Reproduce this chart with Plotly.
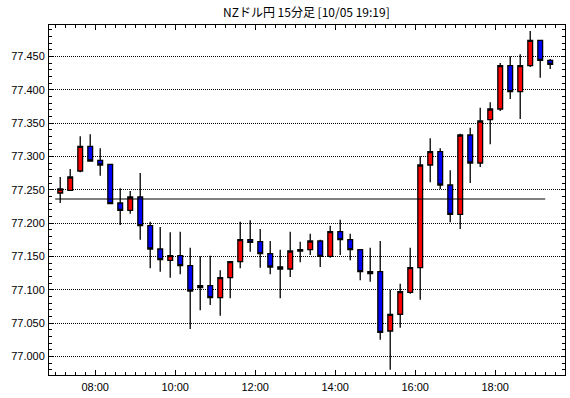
import pandas as pd
import plotly.graph_objects as go

title_text = "NZドル円 15分足 [10/05 19:19]"
start_time = "2023-10-05 07:00"
n_bars = 50

open_ = [77.245, 77.249, 77.278, 77.315, 77.294, 77.288, 77.230, 77.219, 77.239, 77.196,
         77.161, 77.144, 77.151, 77.136, 77.103, 77.106, 77.088, 77.118, 77.142, 77.175,
         77.172, 77.154, 77.134, 77.131, 77.160, 77.160, 77.173, 77.150, 77.187, 77.175,
         77.160, 77.127, 77.127, 77.038, 77.063, 77.096, 77.133, 77.287, 77.307, 77.257,
         77.213, 77.332, 77.290, 77.355, 77.371, 77.436, 77.397, 77.436, 77.474, 77.444]
high = [77.269, 77.281, 77.330, 77.333, 77.312, 77.288, 77.252, 77.248, 77.275, 77.202,
        77.194, 77.186, 77.187, 77.163, 77.150, 77.151, 77.129, 77.143, 77.202, 77.204,
        77.191, 77.173, 77.160, 77.187, 77.172, 77.184, 77.175, 77.196, 77.205, 77.184,
        77.160, 77.163, 77.173, 77.100, 77.109, 77.163, 77.300, 77.327, 77.312, 77.279,
        77.334, 77.343, 77.373, 77.381, 77.440, 77.450, 77.453, 77.488, 77.474, 77.446]
low = [77.230, 77.249, 77.276, 77.293, 77.271, 77.229, 77.197, 77.214, 77.175, 77.132,
       77.127, 77.118, 77.123, 77.041, 77.069, 77.077, 77.061, 77.087, 77.132, 77.157,
       77.133, 77.123, 77.087, 77.119, 77.141, 77.152, 77.134, 77.148, 77.152, 77.144,
       77.114, 77.112, 77.025, 76.980, 77.043, 77.094, 77.085, 77.261, 77.251, 77.201,
       77.191, 77.260, 77.284, 77.318, 77.368, 77.386, 77.356, 77.434, 77.418, 77.431]
close = [77.251, 77.269, 77.315, 77.293, 77.287, 77.229, 77.219, 77.239, 77.196, 77.161,
         77.145, 77.151, 77.136, 77.098, 77.106, 77.088, 77.118, 77.142, 77.175, 77.171,
         77.154, 77.134, 77.131, 77.158, 77.158, 77.173, 77.150, 77.187, 77.175, 77.160,
         77.127, 77.124, 77.036, 77.063, 77.097, 77.133, 77.287, 77.307, 77.257, 77.213,
         77.332, 77.290, 77.353, 77.371, 77.436, 77.397, 77.436, 77.474, 77.444, 77.438]
ref_level = 77.236

y_ticks = [77.000, 77.050, 77.100, 77.150, 77.200, 77.250, 77.300, 77.350, 77.400, 77.450]
y_tick_labels = ["77.000", "77.050", "77.100", "77.150", "77.200",
                 "77.250", "77.300", "77.350", "77.400", "77.450"]
x_tick_times = ["2023-10-05 08:00", "2023-10-05 10:00", "2023-10-05 12:00",
                "2023-10-05 14:00", "2023-10-05 16:00", "2023-10-05 18:00"]
x_tick_labels = ["08:00", "10:00", "12:00", "14:00", "16:00", "18:00"]

times = pd.date_range(start_time, periods=n_bars, freq="15min")
centers = times + pd.Timedelta(minutes=7.5)

fig = go.Figure()
fig.add_trace(go.Candlestick(
    x=centers, open=open_, high=high, low=low, close=close,
    increasing=dict(fillcolor="#ff0000", line=dict(color="black", width=1.3)),
    decreasing=dict(fillcolor="#0000ff", line=dict(color="black", width=1.3)),
    whiskerwidth=0, showlegend=False, hoverinfo="skip",
))
fig.add_trace(go.Scatter(
    x=[times[0], times[-1]], y=[ref_level, ref_level], mode="lines",
    line=dict(color="black", width=1.2), showlegend=False, hoverinfo="skip",
))

tick_font = dict(family="Liberation Sans, Arial, sans-serif", size=11, color="black")

fig.update_layout(
    width=570, height=398,
    margin=dict(l=49, r=5, t=25, b=23, autoexpand=False),
    paper_bgcolor="white", plot_bgcolor="white",
    boxgap=0.32,
    title=dict(text=title_text, x=0.5375, xanchor="center",
               y=1 - 13 / 398, yanchor="middle",
               font=dict(family="Noto Sans CJK JP", size=12, color="black")),
    xaxis=dict(
        type="date", automargin=False,
        range=["2023-10-05 06:50:40", "2023-10-05 19:44:40"],
        rangeslider=dict(visible=False),
        tickmode="array", tickvals=x_tick_times, ticktext=x_tick_labels,
        ticks="inside", ticklen=5, tickcolor="black", tickwidth=1,
        minor=dict(dtick=15 * 60 * 1000, tick0="2023-10-05 07:00", ticks="inside",
                   ticklen=3, tickcolor="black", showgrid=False),
        showgrid=False, zeroline=False,
        showline=True, linecolor="black", linewidth=1, mirror="allticks",
        tickfont=tick_font, ticklabelstandoff=2,
    ),
    yaxis=dict(
        range=[76.972, 77.497], automargin=False,
        tickmode="array", tickvals=y_ticks, ticktext=y_tick_labels,
        ticks="inside", ticklen=4, tickcolor="black", tickwidth=1,
        minor=dict(dtick=0.01, tick0=77.0, ticks="inside", ticklen=3,
                   tickcolor="black", showgrid=False),
        showgrid=True, gridcolor="black", griddash="1px,1px", gridwidth=1,
        zeroline=False,
        showline=True, linecolor="black", linewidth=1, mirror="allticks",
        tickfont=tick_font, ticklabelstandoff=1,
    ),
)

fig.write_html("out.html", config={"displayModeBar": False, "staticPlot": True},
               post_script="document.body.style.margin='0';")
